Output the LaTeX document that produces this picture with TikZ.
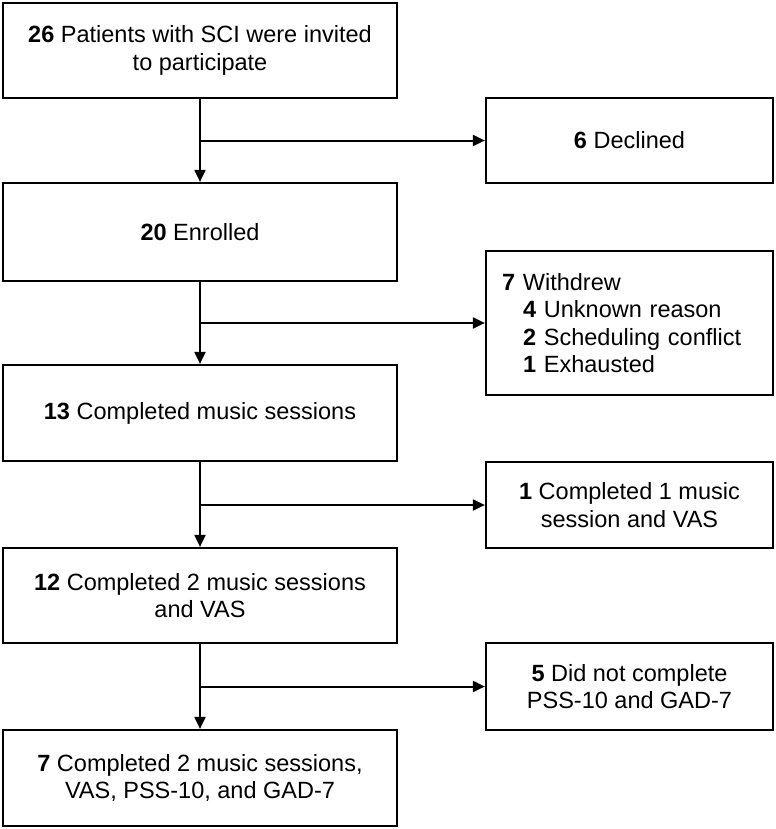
\documentclass[tikz,border=0pt]{standalone}
\usepackage{fontspec}
\setmainfont{Liberation Sans}
\usetikzlibrary{arrows.meta}
\begin{document}
\begin{tikzpicture}[x=1bp,y=-1bp,
  box/.style={draw=black,line width=2.2bp,fill=white,inner sep=0pt,
    font=\fontsize{23.5bp}{27.5bp}\selectfont,align=center},
  mainbox/.style={box,minimum width=394bp},
  sidebox/.style={box,minimum width=287bp},
  arr/.style={line width=2bp,-{Triangle[length=12bp,width=11bp]}}]
\useasboundingbox (0,0) rectangle (776,829);
\node[mainbox,minimum height=95bp] (b1) at (200,50.5) {\textbf{26} Patients with SCI were invited\\to participate};
\node[mainbox,minimum height=98bp] (b2) at (200,232) {\textbf{20} Enrolled};
\node[mainbox,minimum height=96bp] (b3) at (200,413) {\textbf{13} Completed music sessions};
\node[mainbox,minimum height=95bp] (b4) at (200,595.5) {\textbf{12} Completed 2 music sessions\\and VAS};
\node[mainbox,minimum height=96bp] (b5) at (200,778) {\textbf{7} Completed 2 music sessions,\\VAS, PSS-10, and GAD-7};
\node[sidebox,minimum height=85bp] (r1) at (629.5,140.5) {\textbf{6} Declined};
\node[box,minimum height=144bp,align=left,text width=255bp,inner xsep=16bp] (r2) at (629.5,323) {\textbf{7} Withdrew\\\hspace*{21bp}\textbf{4} Unknown reason\\\hspace*{21bp}\textbf{2} Scheduling conflict\\\hspace*{21bp}\textbf{1} Exhausted};
\node[sidebox,minimum height=86bp] (r3) at (629.5,505) {\textbf{1} Completed 1 music\\session and VAS};
\node[sidebox,minimum height=87bp] (r4) at (629.5,686.5) {\textbf{5} Did not complete\\PSS-10 and GAD-7};
\draw[arr] (b1.south) -- (b2.north);
\draw[arr] (b2.south) -- (b3.north);
\draw[arr] (b3.south) -- (b4.north);
\draw[arr] (b4.south) -- (b5.north);
\draw[arr] (b1.south |- r1.west) -- (r1.west);
\draw[arr] (b2.south |- r2.west) -- (r2.west);
\draw[arr] (b3.south |- r3.west) -- (r3.west);
\draw[arr] (b4.south |- r4.west) -- (r4.west);
\end{tikzpicture}
\end{document}
